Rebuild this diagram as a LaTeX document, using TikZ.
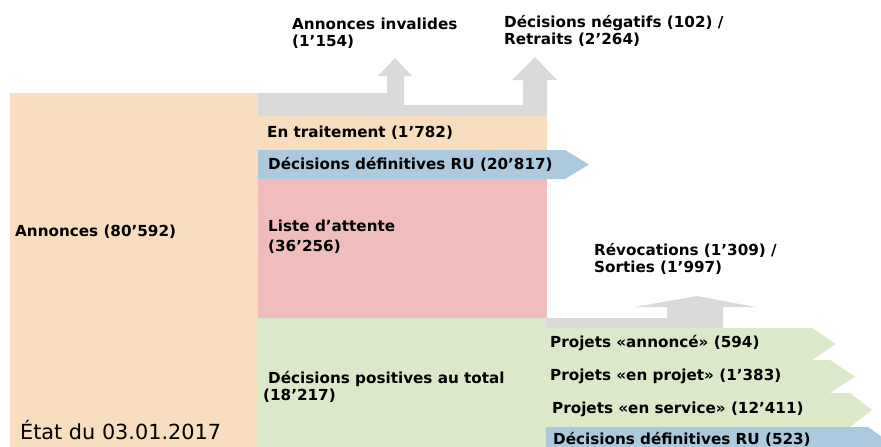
\documentclass[tikz,border=0pt]{standalone}
\usepackage{fontspec}
\setmainfont{DejaVu Sans}

\tikzstyle{lbl} = [font=\bfseries\fontsize{15.2}{17.5}\selectfont, anchor=west, align=left, inner sep=0pt]
\tikzstyle{date} = [font=\fontsize{20.8}{24}\selectfont, anchor=west, inner sep=0pt]
\definecolor{orange1}{RGB}{248,221,191}
\definecolor{pink1}{RGB}{240,189,189}
\definecolor{blue1}{RGB}{173,201,222}
\definecolor{green1}{RGB}{220,232,202}
\definecolor{gray1}{RGB}{217,217,217}

\begin{document}
\begin{tikzpicture}[x=1pt, y=-1pt]
	\useasboundingbox (0,0) rectangle (881,447);
	\clip (0,0) rectangle (881,447);

	% blocks
	\fill [orange1] (10,93) rectangle (258,447);
	\fill [orange1] (258,116) rectangle (547,150);
	\fill [pink1] (258,179) rectangle (547,318);
	\fill [green1] (258,318) rectangle (547,447);

	% outflows
	\fill [gray1] (258,93) -- (387,93) -- (387,76) -- (378,76) -- (395,58) -- (412,76) -- (404,76) -- (404,105) -- (523,105) -- (523,80) -- (512,80) -- (535,57) -- (557,80) -- (547,80) -- (547,116) -- (258,116) -- cycle;
	\fill [gray1] (546,318) -- (667,318) -- (667,307) -- (635,307) -- (697,296) -- (755,307) -- (723,307) -- (723,328) -- (546,328) -- cycle;

	% arrows
	\fill [blue1] (258,150) -- (565,150) -- (589,164.5) -- (565,179) -- (258,179) -- cycle;
	\fill [green1] (546,328) -- (812,328) -- (836,344) -- (812,360) -- (546,360) -- cycle;
	\fill [green1] (546,360) -- (830,360) -- (855,376.5) -- (830,393) -- (546,393) -- cycle;
	\fill [green1] (546,393) -- (850,393) -- (872,410) -- (850,427) -- (546,427) -- cycle;
	\fill [blue1] (546,427) -- (868,427) -- (892,444) -- (868,461) -- (546,461) -- cycle;

	\node [lbl] (annonces) at (15,232) {Annonces (80’592)};
	\node [lbl] (invalides) at (292,33) {Annonces invalides\\(1’154)};
	\node [lbl] (negatifs) at (504,31) {Décisions négatifs (102) /\\Retraits (2’264)};
	\node [lbl] (traitement) at (267,133) {En traitement (1’782)};
	\node [lbl] (defru) at (268,164) {Décisions définitives RU (20’817)};
	\node [lbl] (attente) at (268,237) {Liste d’attente\\[2.5pt](36’256)};
	\node [lbl] (positives) at (263,387) {\hspace*{5pt}Décisions positives au total\\(18’217)};
	\node [lbl] (revocations) at (594,259) {Révocations (1’309) /\\Sorties (1’997)};
	\node [lbl] (annonce) at (550,343) {Projets «annoncé» (594)};
	\node [lbl] (enprojet) at (550,376) {Projets «en projet» (1’383)};
	\node [lbl] (enservice) at (552,409) {Projets «en service» (12’411)};
	\node [lbl] (defrutwo) at (553,439) {Décisions définitives RU (523)};
	\node [date] (etat) at (20,430) {État du 03.01.2017};
\end{tikzpicture}
\end{document}
